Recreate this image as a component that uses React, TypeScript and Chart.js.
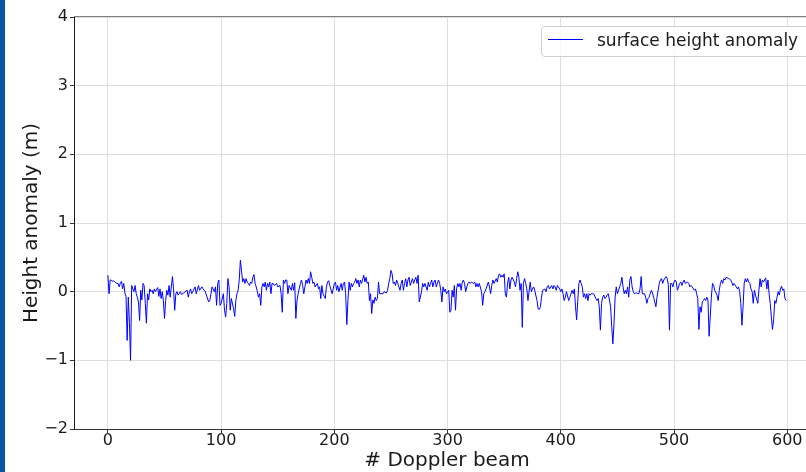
import React, { useEffect, useRef } from "react";
import { Chart, registerables } from "chart.js";

Chart.register(...registerables);

const beams = [
  0, 1, 2, 3, 4, 5, 6, 7, 8, 9, 10, 11, 12, 13, 14, 15, 16, 17, 18, 19, 20, 21, 22, 23, 24, 25, 26, 27, 28, 29,
  30, 31, 32, 33, 34, 35, 36, 37, 38, 39, 40, 41, 42, 44, 45, 46, 47, 48, 49, 50, 51, 52, 53, 54, 55, 56, 57, 58, 59,
  60, 61, 62, 64, 65, 67, 68, 70, 71, 72, 73, 74, 75, 77, 78, 80, 81, 83, 84, 86, 87, 89, 90, 91, 92, 94, 95, 96, 97, 98,
  99, 100, 102, 103, 104, 105, 106, 107, 108, 109, 111, 112, 113, 114, 115, 116, 117, 118, 119, 120, 121, 122, 123, 124,
  125, 126, 127, 128, 129, 130, 131, 132, 133, 134, 135, 136, 137, 138, 139, 140, 141, 142, 143, 144, 145, 146, 147, 149,
  150, 152, 153, 154, 155, 156, 157, 158, 159, 160, 162, 163, 164, 165, 166, 167, 168, 170, 171, 172, 173, 174, 175, 176,
  177, 178, 179, 180, 181, 182, 183, 185, 186, 187, 188, 189, 190, 192, 193, 194, 195, 196, 198, 199, 200, 201, 202, 203,
  204, 206, 207, 208, 209, 210, 211, 212, 213, 214, 215, 216, 217, 218, 219, 220, 221, 222, 223, 224, 226, 227, 228, 229,
  230, 231, 232, 233, 234, 235, 236, 237, 238, 239, 240, 241, 243, 244, 246, 247, 248, 249, 250, 251, 252, 253, 254, 255,
  256, 257, 258, 259, 260, 261, 262, 263, 264, 265, 266, 267, 268, 269, 270, 271, 272, 273, 274, 275, 277, 278, 279, 280,
  282, 283, 284, 285, 286, 287, 288, 289, 290, 292, 293, 294, 295, 296, 297, 298, 299, 301, 302, 303, 304, 305, 306, 307,
  308, 309, 310, 311, 312, 313, 314, 315, 316, 317, 318, 319, 320, 321, 323, 324, 325, 326, 327, 328, 330, 331, 332, 333,
  334, 336, 337, 338, 339, 340, 341, 343, 344, 345, 346, 347, 348, 349, 350, 351, 352, 353, 354, 355, 356, 357, 359, 360,
  361, 362, 363, 364, 365, 366, 367, 368, 369, 370, 371, 373, 374, 375, 376, 377, 379, 380, 381, 382, 383, 384, 386, 387,
  388, 389, 390, 392, 393, 394, 395, 396, 397, 399, 400, 401, 402, 403, 404, 405, 407, 408, 409, 410, 411, 412, 413, 414,
  415, 416, 417, 418, 419, 420, 421, 422, 423, 424, 425, 426, 427, 428, 429, 431, 432, 433, 434, 435, 436, 437, 438, 439,
  440, 441, 442, 444, 445, 446, 447, 448, 449, 450, 451, 452, 453, 454, 455, 456, 457, 458, 459, 460, 461, 462, 463, 464,
  465, 466, 467, 468, 469, 470, 471, 472, 474, 475, 476, 477, 478, 479, 480, 481, 482, 483, 484, 485, 487, 488, 489, 490,
  491, 493, 494, 495, 496, 497, 498, 499, 500, 501, 502, 503, 505, 506, 507, 508, 509, 510, 512, 513, 514, 515, 516, 518,
  519, 520, 521, 522, 523, 524, 525, 526, 527, 528, 529, 530, 531, 532, 533, 534, 535, 536, 538, 539, 540, 541, 542, 543,
  544, 545, 546, 548, 549, 550, 551, 552, 553, 555, 556, 557, 558, 559, 560, 561, 562, 563, 564, 565, 566, 567, 568, 569,
  570, 571, 572, 574, 575, 576, 577, 578, 579, 581, 582, 583, 584, 585, 586, 587, 588, 589, 590, 591, 592, 593, 594, 595,
  596, 597, 598, 599,
];

const heights = [
  0.24, -0.03, 0.17, 0.17, 0.15, 0.16, 0.14, 0.13, 0.12, 0.12, 0.07, 0.13, 0.15, 0.04, 0.12, -0.02, -0.07, -0.71, -0.08, -0.45, -1.0, 0.09, 0.04, 0.0, 0.09, -0.03, -0.08, -0.15, -0.42, 0.02,
  -0.12, 0.12, 0.09, -0.17, -0.46, -0.03, -0.12, 0.04, 0.0, 0.02, -0.03, 0.04, 0.0, 0.06, -0.07, 0.04, -0.1, 0.0, -0.13, -0.39, -0.13, 0.02, -0.05, 0.09, -0.08, 0.07, 0.22, 0.04, -0.27,
  -0.03, 0.0, -0.05, 0.0, -0.04, -0.02, 0.0, 0.02, -0.08, 0.0, 0.04, -0.03, 0.0, 0.07, -0.03, 0.09, 0.02, 0.07, 0.04, 0.0, -0.05, -0.15, -0.13, -0.03, 0.07, 0.0, 0.07, -0.2, 0.12, 0.17,
  -0.2, -0.17, -0.03, -0.27, -0.37, -0.17, 0.19, 0.07, -0.27, -0.1, -0.25, -0.36, -0.13, -0.03, 0.02, 0.17, 0.46, 0.31, 0.14, 0.19, 0.12, 0.19, 0.14, 0.12,
  0.09, 0.14, 0.12, 0.21, 0.25, 0.12, 0.07, 0.0, -0.08, -0.03, -0.2, 0.07, 0.12, 0.07, 0.14, 0.02, 0.12, 0.07, 0.14, -0.03, 0.12, 0.12, 0.09, 0.12,
  0.07, 0.09, -0.03, -0.3, 0.17, 0.12, 0.17, 0.17, -0.03, 0.09, 0.02, 0.12, 0.02, 0.13, -0.39, -0.13, -0.03, 0.12, 0.17, 0.09, -0.03, 0.07, 0.17, 0.12,
  0.19, 0.12, 0.29, 0.21, 0.12, 0.14, 0.07, 0.12, 0.04, 0.07, -0.1, 0.09, -0.03, -0.1, 0.07, 0.14, 0.16, 0.09, -0.03, 0.04, 0.12, 0.14, 0.02, 0.09,
  0.0, 0.12, 0.02, 0.12, 0.14, -0.03, -0.48, -0.13, 0.14, 0.02, 0.12, 0.07, 0.12, 0.14, 0.19, 0.12, 0.17, 0.07, 0.17, 0.12, 0.24, 0.14, 0.21, 0.12,
  0.14, -0.13, -0.03, -0.32, -0.12, -0.17, -0.08, -0.13, -0.1, 0.14, -0.03, -0.03, -0.03, 0.0, -0.02, 0.02, 0.12, 0.19, 0.31, 0.26, 0.12, 0.14, 0.09, 0.17,
  0.12, 0.07, 0.02, 0.12, 0.17, 0.02, 0.12, 0.19, 0.07, 0.17, 0.21, 0.09, 0.14, 0.19, 0.12, 0.17, 0.21, 0.12, 0.24, -0.15, 0.0, 0.12, 0.07, 0.12,
  0.02, 0.14, 0.07, 0.12, 0.17, 0.07, 0.14, 0.17, 0.07, 0.17, 0.12, 0.02, -0.15, 0.07, 0.0, 0.04, -0.03, 0.02, -0.3, -0.27, 0.02, -0.08, 0.09, -0.27,
  0.04, 0.12, 0.07, 0.12, 0.02, 0.14, 0.17, 0.12, 0.0, 0.07, 0.12, 0.14, 0.12, 0.14, 0.12, 0.14, 0.07, 0.12, 0.07, 0.12, 0.0, -0.2, -0.03, 0.0,
  0.04, 0.14, 0.07, -0.03, 0.09, 0.17, 0.12, 0.19, 0.14, 0.24, 0.26, 0.21, 0.24, 0.21, 0.26, -0.03, -0.08, 0.12, 0.21, 0.04, 0.17, 0.21, 0.14, 0.07,
  0.19, 0.29, 0.21, 0.02, 0.12, -0.52, 0.12, 0.19, 0.12, 0.04, -0.13, 0.14, 0.0, 0.04, 0.07, 0.02, -0.13, -0.25, -0.26, -0.22, -0.08, 0.02, 0.04, 0.0,
  0.07, 0.09, 0.04, 0.09, 0.04, 0.09, 0.07, 0.02, 0.09, 0.04, 0.0, 0.04, -0.03, -0.13, -0.08, 0.0, -0.13, -0.08, -0.03, 0.02, -0.03, 0.04, -0.22, -0.41,
  -0.13, 0.12, 0.17, 0.12, 0.07, -0.08, -0.03, -0.1, -0.03, -0.13, -0.03, -0.05, -0.03, -0.03, -0.03, -0.1, -0.13, -0.1, -0.22, -0.56, -0.17, -0.08, -0.05, -0.1,
  -0.08, -0.05, -0.03, -0.22, -0.51, -0.76, -0.47, -0.08, 0.07, -0.03, 0.02, 0.07, 0.12, 0.21, 0.07, -0.03, 0.02, -0.03, 0.07, -0.08, 0.17, 0.22, 0.07, 0.0,
  -0.03, -0.02, -0.02, -0.03, -0.03, 0.04, 0.22, -0.03, -0.03, -0.08, -0.17, -0.1, -0.08, -0.03, 0.02, -0.02, -0.08, -0.15, -0.22, -0.08, 0.12, 0.17, 0.19, 0.12,
  0.17, 0.22, 0.19, 0.1, -0.56, 0.12, 0.12, 0.07, 0.14, 0.17, 0.14, 0.02, 0.12, 0.14, 0.09, 0.14, 0.17, 0.12, 0.14, 0.12, 0.07, 0.09, 0.07, 0.02,
  0.04, -0.03, -0.1, -0.55, -0.22, -0.3, -0.15, -0.13, -0.1, -0.13, -0.08, -0.13, -0.65, -0.37, -0.08, 0.12, 0.09, 0.02, -0.05, -0.13, 0.02, 0.12, 0.17, 0.12,
  0.19, 0.17, 0.21, 0.19, 0.19, 0.17, 0.14, 0.09, 0.12, 0.07, 0.04, 0.07, 0.0, -0.17, -0.49, -0.22, 0.12, 0.19, 0.14, 0.19, 0.14, 0.12, 0.04, 0.0,
  -0.17, 0.02, -0.05, -0.17, 0.02, 0.19, 0.07, 0.17, 0.14, 0.2, 0.04, 0.17, -0.03, -0.17, -0.37, -0.55, -0.41, -0.13, -0.17, -0.08, 0.0, -0.05, 0.04, 0.08,
  0.02, 0.04, -0.1, -0.13,
];

const xTicks = [0, 100, 200, 300, 400, 500, 600];
const yTicks = [-2, -1, 0, 1, 2, 3, 4];
const xRange = [-29.95, 628.95];
const yRange = [-2, 4];
const seriesLabel = "surface height anomaly";
const xTitle = "# Doppler beam";
const yTitle = "Height anomaly (m)";

const FONT = "'DejaVu Sans', 'Liberation Sans', sans-serif";

const fmtTick = (v: number) => (v < 0 ? "\u2212" + Math.abs(v) : String(v));

export default function App() {
  const ref = useRef<HTMLCanvasElement>(null);

  useEffect(() => {
    if (!ref.current) return;
    const topSpine = {
      id: "topSpine",
      afterDraw(chart: any) {
        const { ctx, chartArea: a } = chart;
        ctx.save();
        ctx.lineWidth = 1;
        ctx.strokeStyle = "#808080";
        ctx.beginPath();
        ctx.moveTo(a.left, Math.round(a.top) - 0.5);
        ctx.lineTo(a.right, Math.round(a.top) - 0.5);
        ctx.stroke();
        ctx.restore();
      },
    };
    const chart = new Chart(ref.current, {
      type: "line",
      data: {
        datasets: [
          {
            label: seriesLabel,
            data: beams.map((b, i) => ({ x: b, y: heights[i] })),
            borderColor: "#0000ff",
            borderWidth: 1,
            pointRadius: 0,
            fill: false,
            tension: 0,
          },
        ],
      },
      options: {
        animation: false,
        responsive: false,
        events: [],
        layout: { padding: { top: 17, right: 10, left: 0, bottom: 0 } },
        plugins: { legend: { display: false }, tooltip: { enabled: false } },
        scales: {
          x: {
            type: "linear",
            min: xRange[0],
            max: xRange[1],
            afterBuildTicks: (s: any) => {
              s.ticks = xTicks.map((v) => ({ value: v }));
            },
            afterFit: (s: any) => {
              s.height = 43;
            },
            ticks: {
              font: { family: FONT, size: 16, lineHeight: 1 },
              color: "#1a1a1a",
              padding: 0,
              maxRotation: 0,
              callback: (v: any) => fmtTick(Number(v)),
            },
            grid: { color: "#dedede", lineWidth: 1, tickColor: "#333333", tickLength: 4 },
            border: { display: true, color: "#333333", width: 1 },
            title: {
              display: true,
              text: xTitle,
              color: "#1a1a1a",
              font: { family: FONT, size: 20, lineHeight: 1.13 },
              padding: { top: 0, bottom: 0 },
            },
          },
          y: {
            type: "linear",
            min: yRange[0],
            max: yRange[1],
            afterBuildTicks: (s: any) => {
              s.ticks = yTicks.map((v) => ({ value: v }));
            },
            afterFit: (s: any) => {
              s.width = 74;
            },
            ticks: {
              font: { family: FONT, size: 16, lineHeight: 1 },
              color: "#1a1a1a",
              padding: 2,
              callback: (v: any) => fmtTick(Number(v)),
            },
            grid: { color: "#dedede", lineWidth: 1, tickColor: "#333333", tickLength: 4 },
            border: { display: true, color: "#1a1a1a", width: 1 },
            title: {
              display: true,
              text: yTitle,
              color: "#1a1a1a",
              font: { family: FONT, size: 20, lineHeight: 1.2 },
              padding: { top: 20, bottom: 0 },
            },
          },
        },
      },
      plugins: [topSpine],
    });
    return () => chart.destroy();
  }, []);

  return (
    <div
      style={{
        position: "fixed",
        left: 0,
        top: 0,
        width: 806,
        height: 472,
        overflow: "hidden",
        background: "#ffffff",
      }}
    >
      <canvas
        ref={ref}
        width={830}
        height={472}
        style={{ position: "absolute", left: 0, top: 0, width: 830, height: 472 }}
      />
      <div
        style={{
          position: "absolute",
          left: 0,
          top: 0,
          width: 5,
          height: 472,
          background: "#0b55a5",
        }}
      />
      <div
        style={{
          position: "absolute",
          left: 541,
          top: 26,
          width: 290,
          height: 29,
          border: "1px solid #d0d0d0",
          borderRadius: 4,
          background: "rgba(255,255,255,0.8)",
          boxSizing: "content-box",
        }}
      >
        <div
          style={{
            position: "absolute",
            left: 6,
            top: 12,
            width: 35,
            height: 1,
            background: "#0000ff",
          }}
        />
        <span
          style={{
            position: "absolute",
            left: 55,
            top: 3,
            fontFamily: FONT,
            fontSize: 17,
            lineHeight: "20px",
            color: "#1a1a1a",
            whiteSpace: "nowrap",
          }}
        >
          {seriesLabel}
        </span>
      </div>
    </div>
  );
}
